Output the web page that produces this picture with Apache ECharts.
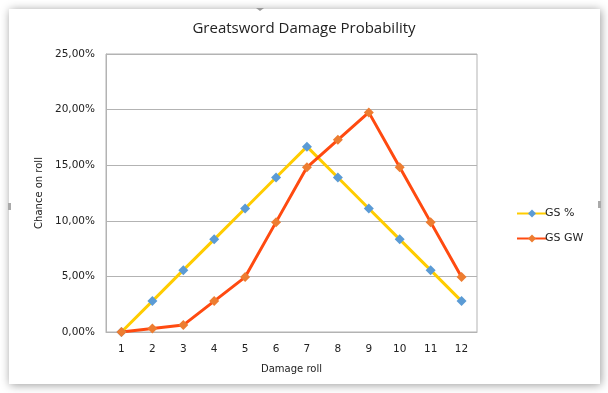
<!DOCTYPE html>
<html><head><meta charset="utf-8">
<script src="https://cdn.jsdelivr.net/npm/echarts@6/dist/echarts.min.js"></script>
<style>html,body{margin:0;padding:0;background:#fff}#c{width:608px;height:393px}</style>
</head><body><div id="c"></div>
<script>
const categories = ['1','2','3','4','5','6','7','8','9','10','11','12'];
const gsPct = [0, 2.78, 5.56, 8.33, 11.11, 13.89, 16.67, 13.89, 11.11, 8.33, 5.56, 2.78];
const gsGW = [0, 0.31, 0.62, 2.78, 4.94, 9.88, 14.81, 17.28, 19.75, 14.81, 9.88, 4.94];
const yTicks = [0, 5, 10, 15, 20, 25];

const chart = echarts.init(document.getElementById('c'), null, {renderer: 'canvas'});
const fmt = v => v.toFixed(2).replace('.', ',') + '%';
chart.setOption({
  animation: false,
  backgroundColor: '#fff',
  graphic: [
    {type: 'rect', shape: {x: 9, y: 9, width: 591, height: 375}, style: {fill: '#fff', shadowBlur: 9, shadowColor: 'rgba(0,0,0,0.4)', shadowOffsetX: 1, shadowOffsetY: 1}, z: -10},
    {type: 'polygon', shape: {points: [[256, 8], [264, 8], [260, 11]]}, style: {fill: '#999'}, z: -5},
    {type: 'rect', shape: {x: 8, y: 203, width: 3, height: 7}, style: {fill: '#aaa'}, z: -5},
    {type: 'rect', shape: {x: 598, y: 201, width: 3, height: 7}, style: {fill: '#aaa'}, z: -5}
  ],
  title: {
    text: 'Greatsword Damage Probability', left: 'center', top: 16,
    textStyle: {fontFamily: 'Open Sans', fontSize: 15, fontWeight: 'normal', color: '#222'}
  },
  legend: {
    orient: 'vertical', left: 511, top: 203, itemWidth: 30, itemHeight: 10, itemGap: 14,
    textStyle: {fontFamily: 'DejaVu Sans', fontSize: 11, color: '#222', padding: [0, 0, 0, -7]},
    data: ['GS %', 'GS GW']
  },
  grid: {left: 106, right: 131, top: 54, bottom: 61, show: true, borderColor: '#b3b3b3', borderWidth: 1},
  xAxis: {
    type: 'category', data: categories, boundaryGap: true,
    name: 'Damage roll', nameLocation: 'middle', nameGap: 32,
    nameTextStyle: {fontFamily: 'DejaVu Sans', fontSize: 10, color: '#222'},
    axisLine: {lineStyle: {color: '#b3b3b3'}}, axisTick: {show: false},
    axisLabel: {fontFamily: 'DejaVu Sans', fontSize: 10.5, color: '#222', margin: 12}
  },
  yAxis: {
    type: 'value', min: yTicks[0], max: yTicks[yTicks.length - 1], interval: 5,
    name: 'Chance on roll', nameLocation: 'middle', nameGap: 52, nameRotate: 90,
    nameTextStyle: {fontFamily: 'DejaVu Sans', fontSize: 10, color: '#222'},
    axisLine: {show: true, lineStyle: {color: '#b3b3b3'}}, axisTick: {show: false},
    splitLine: {lineStyle: {color: '#b3b3b3'}},
    axisLabel: {fontFamily: 'DejaVu Sans', fontSize: 10.5, color: '#222', margin: 11, formatter: fmt}
  },
  series: [
    {name: 'GS %', type: 'line', data: gsPct, symbol: 'diamond', symbolSize: 10,
     lineStyle: {color: '#FFCC00', width: 3}, itemStyle: {color: '#5B9BD5'}, color: '#5B9BD5'},
    {name: 'GS GW', type: 'line', data: gsGW, symbol: 'diamond', symbolSize: 10,
     lineStyle: {color: '#FF4A10', width: 3}, itemStyle: {color: '#ED7D31'}, color: '#ED7D31'}
  ]
});
</script></body></html>
